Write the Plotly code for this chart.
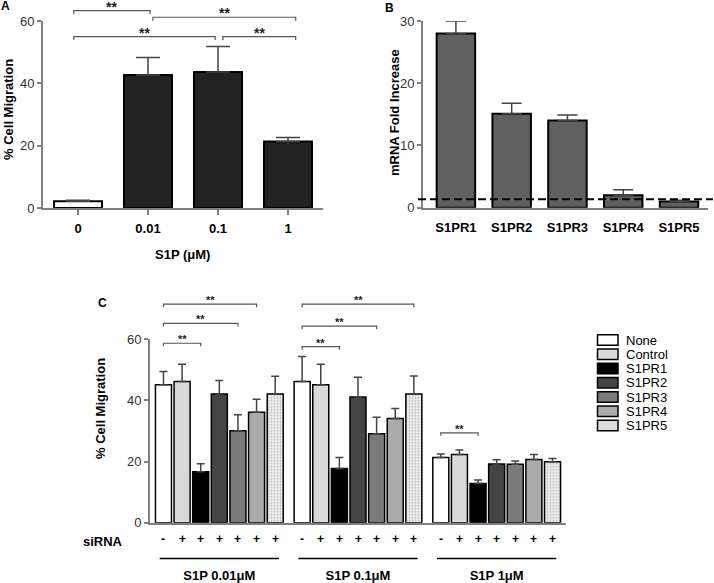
import plotly.graph_objects as go

W, H = 714, 583
FONT = "Liberation Sans, Arial, sans-serif"

# ---------------- data ----------------
# Panel A
a_cats = ["0", "0.01", "0.1", "1"]
a_mean = [2.2, 42.7, 43.6, 21.3]
a_sem = [0.3, 5.6, 8.2, 1.3]
a_colors = ["#ffffff", "#222222", "#222222", "#222222"]
# brackets: (start position, end position, height) in category units / % migration
a_brackets = [(-0.06, 1.03, 63.3), (1.07, 3.11, 61.2), (-0.06, 1.96, 55.0), (2.07, 3.11, 55.0)]

# Panel B
b_cats = ["S1PR1", "S1PR2", "S1PR3", "S1PR4", "S1PR5"]
b_mean = [28.0, 15.1, 14.0, 2.0, 1.0]
b_sem = [2.0, 1.7, 0.9, 0.9, 0.2]
b_baseline = 1.35

# Panel C
c_groups = ["S1P 0.01μM", "S1P 0.1μM", "S1P 1μM"]
c_series = ["None", "Control", "S1PR1", "S1PR2", "S1PR3", "S1PR4", "S1PR5"]
c_none = [45.1, 46.2, 21.3]
c_none_sem = [4.4, 8.2, 1.2]
c_control = [46.2, 45.1, 22.3]
c_control_sem = [5.6, 6.7, 1.5]
c_s1pr1 = [16.7, 17.7, 12.8]
c_s1pr1_sem = [2.6, 3.6, 1.2]
c_s1pr2 = [42.1, 41.1, 19.2]
c_s1pr2_sem = [4.4, 6.5, 1.4]
c_s1pr3 = [30.1, 29.1, 19.1]
c_s1pr3_sem = [5.2, 5.4, 1.1]
c_s1pr4 = [36.1, 34.1, 20.7]
c_s1pr4_sem = [4.3, 3.3, 1.6]
c_s1pr5 = [42.1, 42.1, 19.9]
c_s1pr5_sem = [5.8, 5.9, 1.1]
c_sirna = ["-", "+", "+", "+", "+", "+", "+"]
# brackets: (group, from bar, to bar, height)
c_brackets = [(0, 0, 2, 58.7), (0, 0, 4, 65.2), (0, 0, 5, 71.5),
              (1, 0, 2, 57.6), (1, 0, 4, 64.3), (1, 0, 6, 71.5),
              (2, 0, 2, 29.4)]

# ---------------- styles ----------------
c_values = [c_none, c_control, c_s1pr1, c_s1pr2, c_s1pr3, c_s1pr4, c_s1pr5]
c_sems = [c_none_sem, c_control_sem, c_s1pr1_sem, c_s1pr2_sem, c_s1pr3_sem, c_s1pr4_sem, c_s1pr5_sem]
c_colors = ["#ffffff", "#d9d9d9", "#000000", "#444444", "#7a7a7a", "#aaaaaa", "#e6e6e6"]

AXC = "#808080"
ERRC = "#444444"


def px_x(p):
    return p / W


def px_y(p):
    return 1 - p / H


A_X, A_Y = [px_x(43), px_x(323)], [px_y(208), px_y(21)]
B_X, B_Y = [px_x(423), px_x(708)], [px_y(207.7), px_y(21)]
C_X, C_Y = [px_x(150), px_x(566)], [px_y(522.7), px_y(339.3)]
A_XR, A_YR = [-0.5, 3.5], [0, 60]
B_XR, B_YR = [-0.59, 4.52], [0, 30]
C_XR, C_YR = [-0.5, 2.5], [0, 60]

BARGAP, BARGROUPGAP = 0.06, 0.14
SLOT = (1 - BARGAP) / len(c_series)


def to_paper(v, dom, rng):
    return dom[0] + (v - rng[0]) / (rng[1] - rng[0]) * (dom[1] - dom[0])


fig = go.Figure()

# Panel A bars
fig.add_trace(go.Bar(
    x=a_cats, y=a_mean, width=0.686,
    marker=dict(color=a_colors, line=dict(color="black", width=2)),
    error_y=dict(type="data", array=a_sem, arrayminus=[0] * len(a_sem), symmetric=False,
                 color=ERRC, thickness=1.5, width=12),
    xaxis="x", yaxis="y", showlegend=False,
))

# Panel B bars
fig.add_trace(go.Bar(
    x=b_cats, y=b_mean, width=0.69,
    marker=dict(color="#606060", line=dict(color="black", width=2)),
    error_y=dict(type="data", array=b_sem, arrayminus=[0] * len(b_sem), symmetric=False,
                 color=ERRC, thickness=1.5, width=10),
    xaxis="x2", yaxis="y2", showlegend=False,
))

# Panel C grouped bars
for k, name in enumerate(c_series):
    marker = dict(color=c_colors[k], line=dict(color="black", width=1.5))
    if name == "S1PR5":
        marker["pattern"] = dict(shape=".", fgcolor="#8a8a8a", bgcolor="#f0f0f0", size=3, solidity=0.35)
    fig.add_trace(go.Bar(
        x=c_groups, y=c_values[k], name=name, marker=marker,
        error_y=dict(type="data", array=c_sems[k], arrayminus=[0] * len(c_sems[k]), symmetric=False,
                     color=ERRC, thickness=1.5, width=4),
        xaxis="x3", yaxis="y3", showlegend=False,
    ))

shapes = []
annotations = []
BRC = "#555555"


def note(x, y, text, font, **kw):
    d = dict(x=x, y=y, xref="paper", yref="paper", text=text, showarrow=False,
             xanchor="center", yanchor="middle", font=font)
    d.update(kw)
    annotations.append(d)


def bracket(x0, x1, y, tick_px=3.5, size=13):
    t = tick_px / H
    shapes.append(dict(type="path", xref="paper", yref="paper",
                       path=f"M{x0},{y - t} L{x0},{y} L{x1},{y} L{x1},{y - t}",
                       line=dict(color=BRC, width=1.2)))
    note((x0 + x1) / 2, y, "**", dict(family=FONT, size=size, color="#222", weight="bold"), yshift=4)


for s, e, h in a_brackets:
    bracket(to_paper(s, A_X, A_XR), to_paper(e, A_X, A_XR), to_paper(h, A_Y, A_YR), 3.5, 14)

for g, k0, k1, h in c_brackets:
    x0 = to_paper(g + (k0 - 3) * SLOT, C_X, C_XR)
    x1 = to_paper(g + (k1 - 3) * SLOT, C_X, C_XR)
    bracket(x0, x1, to_paper(h, C_Y, C_YR), 3, 11)

# Panel B baseline
shapes.append(dict(type="line", xref="paper", yref="y2", x0=px_x(418), x1=px_x(713),
                   y0=b_baseline, y1=b_baseline, line=dict(color="black", width=2, dash="8px,4px")))

# siRNA row & group underline
signfont = dict(family=FONT, size=12, color="black", weight="bold")
for g in range(len(c_groups)):
    for k, sign in enumerate(c_sirna):
        note(to_paper(g + (k - 3) * SLOT, C_X, C_XR), px_y(538.5), sign, signfont)
    shapes.append(dict(type="line", xref="paper", yref="paper",
                       x0=to_paper(g - 0.43, C_X, C_XR), x1=to_paper(g + 0.43, C_X, C_XR),
                       y0=px_y(558.5), y1=px_y(558.5), line=dict(color="black", width=1.5)))
note(px_x(103), px_y(541.5), "siRNA", dict(family=FONT, size=13, color="black", weight="bold"))

# Legend (manual, compact like the original)
for k, name in enumerate(c_series):
    yc = 340 + 14.25 * k
    shapes.append(dict(type="rect", xref="paper", yref="paper",
                       x0=px_x(597.5), x1=px_x(618), y0=px_y(yc + 5.2), y1=px_y(yc - 5.2),
                       fillcolor=c_colors[k] if name != "S1PR5" else "#dcdcdc",
                       line=dict(color="black", width=1.5)))
    note(px_x(624), px_y(yc), name, dict(family=FONT, size=13, color="black"), xanchor="left")

# Panel letters and axis titles
for letter, xp, yp in [("A", 5, 6), ("B", 390, 8), ("C", 103, 303)]:
    note(px_x(xp), px_y(yp), letter, dict(family=FONT, size=12, color="black", weight="bold"))
titlefont = dict(family=FONT, size=13, color="black", weight="bold")
for txt, xp, yp, ang in [("% Cell Migration", 9, 110, -90), ("mRNA Fold Increase", 395, 113, -90),
                         ("% Cell Migration", 100, 409, -90), ("S1P (μM)", 183, 255, 0)]:
    note(px_x(xp), px_y(yp), txt, titlefont, textangle=ang)

tickfont = dict(family=FONT, size=13, color="#333")
boldtick = dict(family=FONT, size=13, color="black", weight="bold")

common_y = dict(showline=True, linecolor=AXC, linewidth=2, ticks="outside", ticklen=4,
                tickcolor=AXC, tickwidth=1.5, showgrid=False, zeroline=False, tickfont=tickfont,
                automargin=False)
common_x = dict(showline=True, linecolor=AXC, linewidth=2, showgrid=False, zeroline=False,
                automargin=False)

fig.update_layout(
    width=W, height=H, margin=dict(l=0, r=0, t=0, b=0),
    paper_bgcolor="white", plot_bgcolor="white",
    barmode="group", bargap=BARGAP, bargroupgap=BARGROUPGAP,
    showlegend=False,
    font=dict(family=FONT),
    xaxis=dict(domain=A_X, range=A_XR, type="category", anchor="y", ticks="outside", ticklen=5,
               tickcolor=AXC, tickwidth=1.5, tickfont=boldtick, ticklabelstandoff=2, **common_x),
    yaxis=dict(domain=A_Y, range=A_YR, anchor="x", tickvals=[0, 20, 40, 60], **common_y),
    xaxis2=dict(domain=B_X, range=B_XR, type="category", anchor="y2", ticks="",
                tickfont=boldtick, ticklabelstandoff=7, **common_x),
    yaxis2=dict(domain=B_Y, range=B_YR, anchor="x2", tickvals=[0, 10, 20, 30], **common_y),
    xaxis3=dict(domain=C_X, range=C_XR, type="category", anchor="y3", ticks="",
                tickfont=boldtick, ticklabelstandoff=40, **common_x),
    yaxis3=dict(domain=C_Y, range=C_YR, anchor="x3", tickvals=[0, 20, 40, 60], **common_y),
    shapes=shapes, annotations=annotations,
)

fig.write_html("out.html", config={"displayModeBar": False},
               post_script="document.body.style.margin='0px';document.body.style.overflow='hidden';")
